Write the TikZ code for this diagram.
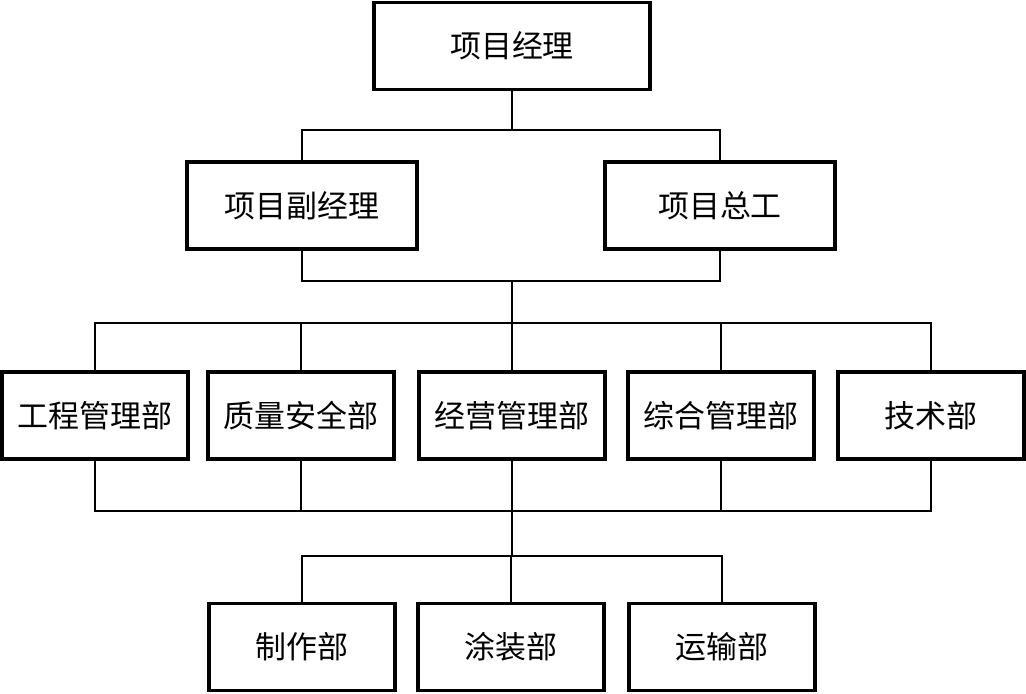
\documentclass[tikz,border=0pt]{standalone}
\usepackage{fontspec}
\newfontfamily\cjk{Noto Sans CJK SC}
\usepackage{tikz}

\begin{document}
\begin{tikzpicture}[x=0.025cm, y=-0.025cm,
    box/.style={draw, line width=2.5pt, minimum width=186*0.025cm, minimum height=87*0.025cm,
      inner sep=0pt, font=\cjk\fontsize{22}{26}\selectfont},
    wire/.style={line width=1.4pt}]
  \useasboundingbox (0,0) rectangle (1026,694);
  % top levels
  \node[box, minimum width=276*0.025cm] (m1) at (512,46) {项目经理};
  \node[box, minimum width=230*0.025cm] (d1) at (302,205.5) {项目副经理};
  \node[box, minimum width=230*0.025cm] (d2) at (720,205.5) {项目总工};
  % departments
  \node[box] (b1) at (95,415.5) {工程管理部};
  \node[box] (b2) at (301,415.5) {质量安全部};
  \node[box] (b3) at (512,415.5) {经营管理部};
  \node[box] (b4) at (721,415.5) {综合管理部};
  \node[box] (b5) at (931,415.5) {技术部};
  % workshops
  \node[box] (s1) at (302,647) {制作部};
  \node[box] (s2) at (511,647) {涂装部};
  \node[box] (s3) at (722,647) {运输部};
  % junctions
  \coordinate (j1) at (512,130);
  \coordinate (j2) at (512,281);
  \coordinate (j3) at (512,323);
  \coordinate (j4) at (512,511);
  \coordinate (j5) at (512,556);
  \draw[wire] (m1) -- (j1);
  \draw[wire] (j1) -| (d1);
  \draw[wire] (j1) -| (d2);
  \draw[wire] (d1.south) |- (j2) -| (d2.south);
  \draw[wire] (j2) -- (j3);
  \foreach \n in {b1,b2,b3,b4,b5}
    \draw[wire] (j3) -| (\n);
  \foreach \n in {b1,b2,b4,b5}
    \draw[wire] (\n.south) |- (j4);
  \draw[wire] (b3) -- (j5);
  \foreach \n in {s1,s2,s3}
    \draw[wire] (j5) -| (\n);
\end{tikzpicture}
\end{document}
